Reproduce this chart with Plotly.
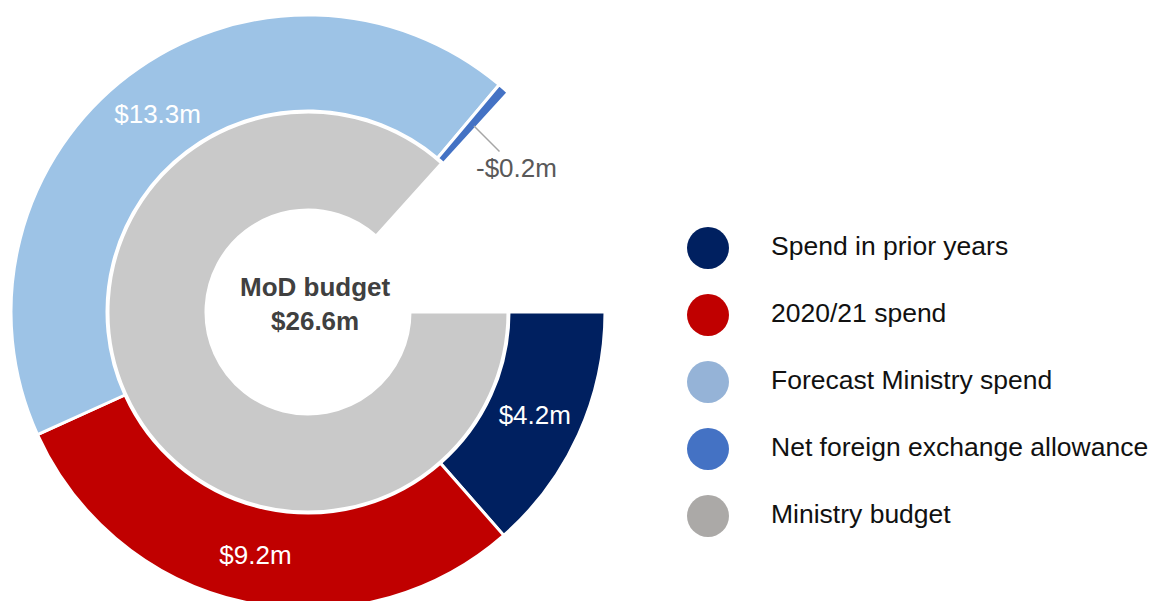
import plotly.graph_objects as go

# ---- data ----
outer_labels = ["Spend in prior years", "2020/21 spend", "Forecast Ministry spend",
                "Net foreign exchange allowance", "spacer"]
outer_values = [4.2, 9.2, 13.3, 0.2, 4.1]
outer_text = ["$4.2m", "$9.2m", "$13.3m", "", ""]
outer_colors = ["#002060", "#C00000", "#9DC3E6", "#4472C4", "rgba(0,0,0,0)"]

inner_labels = ["Ministry budget", "spacer"]
inner_values = [26.6, 4.1]
inner_colors = ["#C9C9C9", "rgba(0,0,0,0)"]

legend_labels = ["Spend in prior years", "2020/21 spend", "Forecast Ministry spend",
                 "Net foreign exchange allowance", "Ministry budget"]
legend_colors = ["#002060", "#C00000", "#95B3D7", "#4472C4", "#ABA9A7"]

center_title = "MoD budget"
center_value = "$26.6m"
fx_label = "-$0.2m"

W, H = 1156, 601
FONT = "Liberation Sans, Arial, sans-serif"
FS = 26

fig = go.Figure()

# outer ring
cx, cy = 300, 297  # centre in px (from left, from bottom)
R_out, R_in = 297, 200
fig.add_trace(go.Pie(
    labels=outer_labels, values=outer_values, text=outer_text,
    textinfo="text", texttemplate="%{text}", textposition="inside",
    insidetextorientation="horizontal",
    textfont=dict(family=FONT, size=FS, color="white"),
    marker=dict(colors=outer_colors,
                line=dict(color=["white"] * 4 + ["rgba(0,0,0,0)"], width=[3, 3, 3, 3, 0])),
    hole=201 / 297, sort=False, direction="clockwise", rotation=90,
    domain=dict(x=[(cx - R_out) / W, (cx + R_out) / W], y=[(cy - R_out) / H, (cy + R_out) / H]),
    showlegend=False, hoverinfo="skip",
))

# inner ring
fig.add_trace(go.Pie(
    labels=inner_labels, values=inner_values, textinfo="none",
    marker=dict(colors=inner_colors,
                line=dict(color=["white", "rgba(0,0,0,0)"], width=[3, 0])),
    hole=102 / 200, sort=False, direction="clockwise", rotation=90,
    domain=dict(x=[(cx - R_in) / W, (cx + R_in) / W], y=[(cy - R_in) / H, (cy + R_in) / H]),
    showlegend=False, hoverinfo="skip",
))

# custom legend
ys = [-i for i in range(len(legend_labels))]
fig.add_trace(go.Scatter(
    x=[700] * len(legend_labels), y=ys, mode="markers",
    marker=dict(size=42, color=legend_colors, line=dict(width=0)),
    showlegend=False, hoverinfo="skip", cliponaxis=False,
))
fig.add_trace(go.Scatter(
    x=[763] * len(legend_labels), y=ys, mode="text", text=legend_labels,
    textposition="middle right",
    textfont=dict(family=FONT, size=26.5, color="#111111"),
    showlegend=False, hoverinfo="skip", cliponaxis=False,
))

fig.update_xaxes(range=[0, W], visible=False, fixedrange=True)
fig.update_yaxes(range=[-5.388, 3.582], visible=False, fixedrange=True)

# centre text
fig.add_annotation(
    x=307 / W, y=(H - 296) / H, xref="paper", yref="paper",
    xanchor="center", yanchor="middle",
    text=f"<b>{center_title}<br>{center_value}</b>", showarrow=False,
    font=dict(family=FONT, size=FS, color="#404040"), align="center",
)

# -$0.2m callout
fig.add_annotation(
    x=466 / W, y=(H - 118) / H, xref="paper", yref="paper",
    ax=42, ay=42,
    text=fx_label, showarrow=True, arrowhead=0, arrowwidth=1.5, arrowcolor="#A6A6A6",
    font=dict(family=FONT, size=FS, color="#595959"),
)

fig.update_layout(
    width=W, height=H, margin=dict(l=0, r=0, t=0, b=0),
    paper_bgcolor="white", plot_bgcolor="white",
    font=dict(family=FONT),
)

fig.write_html("out.html")
